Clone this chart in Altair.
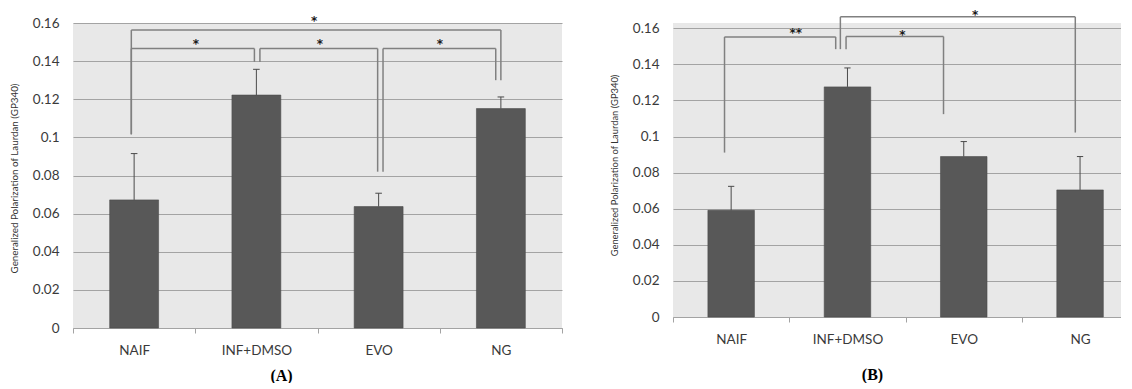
import altair as alt
import pandas as pd

# ---------------- data ----------------
categories = ["NAIF", "INF+DMSO", "EVO", "NG"]

a_values = [0.0672, 0.1222, 0.0637, 0.1151]
a_err_top = [0.0915, 0.1357, 0.0707, 0.1212]

b_values = [0.0591, 0.1275, 0.0889, 0.0704]
b_err_top = [0.0724, 0.1380, 0.0972, 0.0889]

y_ticks = [0, 0.02, 0.04, 0.06, 0.08, 0.1, 0.12, 0.14, 0.16]
y_title = "Generalized Polarization of Laurdan (GP340)"

# significance brackets (x in category-band units, y in GP units)
a_br_left = [0.477, 0.477, 1.529, 2.536]
a_br_right = [3.500, 1.484, 2.492, 3.458]
a_br_top = [0.1563, 0.1466, 0.1466, 0.1466]
a_br_left_foot = [0.1016, 0.1016, 0.1396, 0.082]
a_br_right_foot = [0.130, 0.1396, 0.082, 0.130]
a_star_text = ["*", "*", "*", "*"]
a_star_x = [1.973, 1.005, 2.019, 3.002]
a_star_y = [0.1625, 0.1508, 0.1508, 0.1508]

b_br_left = [0.443, 1.439, 1.488]
b_br_right = [1.399, 3.459, 2.326]
b_br_top = [0.1552, 0.1663, 0.1554]
b_br_left_foot = [0.0911, 0.1484, 0.1484]
b_br_right_foot = [0.1484, 0.1022, 0.1124]
b_star_text = ["**", "*", "*"]
b_star_x = [1.055, 2.597, 1.972]
b_star_y = [0.159, 0.169, 0.158]

BAR = "#585858"
GRID = "#a3a3a3"
BRACKET = "#808080"
TEXT = "#3a3a3a"
FONT = "Lato"


def panel(values, err_top, br_l, br_r, br_t, br_lf, br_rf, st_text, st_x, st_y,
          x_max, width, height, y_max, yt_x, yt_y, yt_size, label, lab_x, lab_y):
    n = len(categories)
    bar_df = pd.DataFrame({
        "cat": categories,
        "pos": [i + 0.5 for i in range(n)],
        "value": values,
        "err": err_top,
    })
    seg_rows = []
    for l, r, t, lf, rf in zip(br_l, br_r, br_t, br_lf, br_rf):
        seg_rows.append({"x": l, "x2": r, "y": t, "y2": t})
        seg_rows.append({"x": l, "x2": l, "y": lf, "y2": t})
        seg_rows.append({"x": r, "x2": r, "y": rf, "y2": t})
    seg_df = pd.DataFrame(seg_rows)
    star_df = pd.DataFrame({"t": st_text, "x": st_x, "y": st_y})

    xticks = [k / 2 for k in range(0, int(x_max * 2) + 1)]
    names_js = "[" + ",".join("'%s'" % c for c in categories) + "]"
    xs = alt.Scale(domain=[0, x_max], nice=False, zero=False)
    ys = alt.Scale(domain=[0, y_max], nice=False, zero=True)

    x_axis = alt.Axis(
        values=xticks,
        labelExpr=f"datum.value % 1 == 0.5 ? {names_js}[floor(datum.value)] : ''",
        grid=False,
        domainColor=GRID, domainWidth=1,
        tickColor=GRID, tickSize=5, tickWidth=1,
        tickOpacity={"condition": {"test": "datum.value % 1 != 0", "value": 0}, "value": 1},
        labelFont=FONT, labelFontSize=13.5, labelColor=TEXT, labelPadding=10,
        labelFlush=False, labelOverlap=False,
        title=label, titleFont="Liberation Serif", titleFontSize=16,
        titleFontWeight="bold", titleColor="#000000",
        titleX=lab_x, titleY=lab_y, titleAlign="center", titleBaseline="middle",
    )
    y_axis = alt.Axis(
        values=y_ticks, format=".2~f", tickCount=9,
        grid=True, gridColor=GRID, gridWidth=1,
        ticks=False, tickSize=0, domain=False,
        labelFont=FONT, labelFontSize=13.5, labelColor=TEXT, labelPadding=14,
        labelOverlap=False,
        title=y_title, titleFont=FONT, titleFontSize=yt_size,
        titleFontWeight="normal", titleColor="#333333",
        titleX=yt_x, titleY=yt_y, titleAlign="center", titleBaseline="middle",
        titleAngle=270,
    )

    bars = alt.Chart(bar_df).transform_calculate(
        x0="datum.pos - 0.2", x1="datum.pos + 0.2"
    ).mark_bar(color=BAR, stroke="#4c4c4c", strokeWidth=0.6).encode(
        x=alt.X("x0:Q", scale=xs, axis=x_axis),
        x2="x1:Q",
        y=alt.Y("value:Q", scale=ys, axis=y_axis),
        y2=alt.datum(0),
    )
    err = alt.Chart(bar_df).mark_rule(color="#4a4a4a", strokeWidth=1).encode(
        x=alt.X("pos:Q", scale=xs, axis=x_axis),
        y=alt.Y("value:Q", scale=ys, axis=y_axis),
        y2="err:Q",
    )
    cap = alt.Chart(bar_df).transform_calculate(
        c0="datum.pos - 0.027", c1="datum.pos + 0.027"
    ).mark_rule(color="#4a4a4a", strokeWidth=1).encode(
        x=alt.X("c0:Q", scale=xs, axis=x_axis),
        x2="c1:Q",
        y=alt.Y("err:Q", scale=ys, axis=y_axis),
    )
    segs = alt.Chart(seg_df).mark_rule(color=BRACKET, strokeWidth=1.5).encode(
        x=alt.X("x:Q", scale=xs, axis=x_axis),
        x2="x2:Q",
        y=alt.Y("y:Q", scale=ys, axis=y_axis),
        y2="y2:Q",
    )
    stars = alt.Chart(star_df).mark_text(
        font="DejaVu Sans", fontSize=12, fontWeight="bold", color="#1a1a1a",
        baseline="middle", dy=3
    ).encode(
        x=alt.X("x:Q", scale=xs, axis=x_axis),
        y=alt.Y("y:Q", scale=ys, axis=y_axis),
        text="t:N",
    )
    return alt.layer(bars, err, cap, segs, stars).properties(width=width, height=height)


panel_a = panel(a_values, a_err_top, a_br_left, a_br_right, a_br_top, a_br_left_foot,
                a_br_right_foot, a_star_text, a_star_x, a_star_y,
                x_max=4, width=489, height=305, y_max=0.16,
                yt_x=-59, yt_y=155, yt_size=9.8, label="(A)", lab_x=208, lab_y=47)

panel_b = panel(b_values, b_err_top, b_br_left, b_br_right, b_br_top, b_br_left_foot,
                b_br_right_foot, b_star_text, b_star_x, b_star_y,
                x_max=3.852, width=448, height=294, y_max=0.1629,
                yt_x=-59, yt_y=142, yt_size=9.4, label="(B)", lab_x=199, lab_y=57)

chart = alt.hconcat(panel_a, panel_b, spacing=111, bounds="flush").properties(
    padding={"left": 1, "top": 0, "right": 0, "bottom": 0},
    background="#ffffff",
).configure_view(
    fill="#e8e8e8", stroke=None
)

chart.save("out.html", embed_options={"renderer": "svg", "actions": False})
